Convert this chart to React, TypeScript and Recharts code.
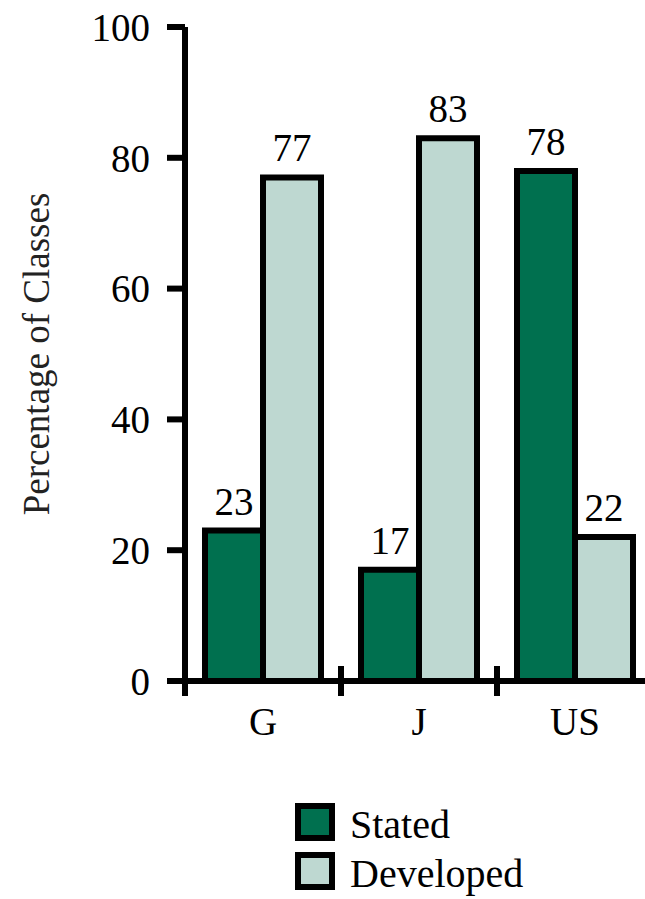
import { BarChart, Bar, XAxis, YAxis, Legend, LabelList, Label } from 'recharts';

const countries = ['G', 'J', 'US'];
const stated = [23, 17, 78];
const developed = [77, 83, 22];
const yTicks = [0, 20, 40, 60, 80, 100];

const data = countries.map((name, i) => ({ name, stated: stated[i], developed: developed[i] }));

const DARK = '#00704f';
const LIGHT = '#bed8d1';
const FONT = 'Liberation Serif';

const XTick = (props: any) => {
  const { x, y, payload } = props;
  // band boundary sits half a band to the left of the label
  const half = payload && payload.offset ? payload.offset : 78;
  const bx = x - half;
  return (
    <g>
      <line x1={bx} y1={y - 15} x2={bx} y2={y + 15} stroke="#000" strokeWidth={6} />
      <text x={x} y={y + 54} textAnchor="middle" fontSize={39} fontFamily={FONT} fill="#000">
        {payload.value}
      </text>
    </g>
  );
};

const YLabel = (props: any) => {
  const vb = props.viewBox || { x: 0, y: 27, width: 185, height: 654 };
  const cx = vb.x + 36;
  const cy = vb.y + vb.height / 2;
  return (
    <text
      x={cx}
      y={cy}
      transform={`rotate(-90 ${cx} ${cy})`}
      textAnchor="middle"
      dominantBaseline="central"
      fontSize={37}
      fontFamily={FONT}
      fill="#222"
    >
      Percentage of Classes
    </text>
  );
};

// legend drawn as a small svg so the text uses the same font as the axes
const LegendBox = () => {
  const items = [
    { label: 'Stated', color: DARK },
    { label: 'Developed', color: LIGHT },
  ];
  return (
    <svg width={250} height={100} style={{ display: 'block' }}>
      {items.map((it, i) => (
        <g key={it.label} transform={`translate(0, ${i * 49})`}>
          <rect x={3} y={9} width={34} height={32} fill={it.color} stroke="#000" strokeWidth={6} />
          <text x={55} y={41} fontSize={40} fontFamily={FONT} fill="#000">
            {it.label}
          </text>
        </g>
      ))}
    </svg>
  );
};

export default function App() {
  return (
    <div
      style={{
        position: 'absolute',
        left: 0,
        top: 0,
        width: 645,
        height: 899,
        overflow: 'hidden',
        background: '#fff',
      }}
    >
      <BarChart
        width={653}
        height={899}
        data={data}
        margin={{ top: 27, right: 0, bottom: 0, left: 0 }}
        barGap={0}
        barSize={58}
      >
        <XAxis
          dataKey="name"
          height={218}
          tickLine={false}
          tickSize={0}
          tickMargin={0}
          axisLine={{ stroke: '#000', strokeWidth: 6 }}
          tick={<XTick />}
          interval={0}
        />
        <YAxis
          width={185}
          domain={[0, 100]}
          ticks={yTicks}
          interval={0}
          tickSize={18}
          tickMargin={17}
          axisLine={{ stroke: '#000', strokeWidth: 6 }}
          tickLine={{ stroke: '#000', strokeWidth: 6 }}
          tick={{ fontSize: 39, fontFamily: FONT, fill: '#000' }}
        >
          <Label content={<YLabel />} />
        </YAxis>
        <Legend
          layout="horizontal"
          verticalAlign="middle"
          align="center"
          content={<LegendBox />}
          wrapperStyle={{ left: 295, top: 797, bottom: 'auto', width: 'auto' }}
        />
        <Bar dataKey="stated" name="Stated" fill={DARK} stroke="#000" strokeWidth={6} isAnimationActive={false}>
          <LabelList dataKey="stated" position="top" offset={16} fontSize={39} fontFamily={FONT} fill="#000" />
        </Bar>
        <Bar dataKey="developed" name="Developed" fill={LIGHT} stroke="#000" strokeWidth={6} isAnimationActive={false}>
          <LabelList dataKey="developed" position="top" offset={16} fontSize={39} fontFamily={FONT} fill="#000" />
        </Bar>
      </BarChart>
    </div>
  );
}
